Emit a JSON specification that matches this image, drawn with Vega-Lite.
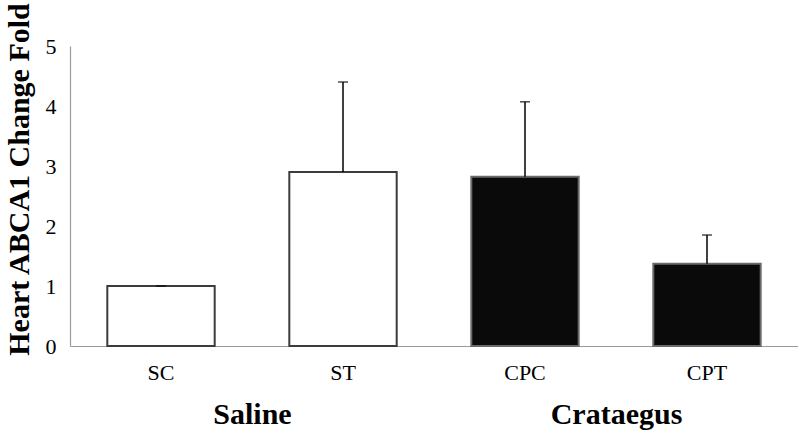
{
  "$schema": "https://vega.github.io/schema/vega-lite/v6.json",
  "width": 728,
  "height": 300,
  "autosize": "none",
  "padding": {"left": 70, "top": 46, "right": 0, "bottom": 86},
  "background": "white",
  "config": {"view": {"stroke": null}, "font": "Liberation Serif"},
  "data": {
    "values": [
      {"group": "SC", "treatment": "Saline", "value": 1.0, "upper": 1.0},
      {"group": "ST", "treatment": "Saline", "value": 2.9, "upper": 4.4},
      {"group": "CPC", "treatment": "Crataegus", "value": 2.82, "upper": 4.07},
      {"group": "CPT", "treatment": "Crataegus", "value": 1.37, "upper": 1.85}
    ]
  },
  "layer": [
    {
      "layer": [
        {
          "mark": {"type": "bar", "strokeWidth": 2},
          "encoding": {
            "x": {
              "field": "group",
              "type": "nominal",
              "sort": ["SC", "ST", "CPC", "CPT"],
              "scale": {"paddingInner": 0.41, "paddingOuter": 0.205},
              "axis": {
                "title": null,
                "labelAngle": 0,
                "labelFont": "Liberation Serif",
                "labelFontSize": 22,
                "labelColor": "black",
                "labelPadding": 16,
                "ticks": false,
                "domainColor": "#9a9a9a",
                "domainWidth": 1.2
              }
            },
            "y": {
              "field": "value",
              "type": "quantitative",
              "scale": {"domain": [0, 5], "nice": false},
              "axis": {
                "values": [0, 1, 2, 3, 4, 5],
                "format": "d",
                "title": "Heart ABCA1 Change Fold",
                "titleFont": "Liberation Serif",
                "titleFontWeight": "bold",
                "titleFontSize": 30,
                "titleColor": "black",
                "titleAngle": -90,
                "titleAlign": "center",
                "titleBaseline": "alphabetic",
                "titleX": -42,
                "titleY": 133,
                "labelFont": "Liberation Serif",
                "labelFontSize": 22,
                "labelColor": "black",
                "labelPadding": 14,
                "ticks": false,
                "grid": false,
                "domainColor": "#9a9a9a",
                "domainWidth": 1.2
              }
            },
            "fill": {
              "field": "treatment",
              "type": "nominal",
              "scale": {"domain": ["Saline", "Crataegus"], "range": ["#ffffff", "#0a0a0a"]},
              "legend": null
            },
            "stroke": {
              "field": "treatment",
              "type": "nominal",
              "scale": {"domain": ["Saline", "Crataegus"], "range": ["#3c3c3c", "#6a6a6a"]},
              "legend": null
            }
          }
        },
        {
          "mark": {"type": "rule", "color": "black", "strokeWidth": 1.5},
          "encoding": {
            "x": {"field": "group", "type": "nominal", "sort": ["SC", "ST", "CPC", "CPT"]},
            "y": {"field": "value", "type": "quantitative"},
            "y2": {"field": "upper"}
          }
        },
        {
          "mark": {"type": "tick", "color": "black", "size": 10, "thickness": 1.5},
          "encoding": {
            "x": {"field": "group", "type": "nominal", "sort": ["SC", "ST", "CPC", "CPT"]},
            "y": {"field": "upper", "type": "quantitative"}
          }
        }
      ]
    },
    {
      "mark": {"type": "point", "opacity": 0},
      "encoding": {
        "x": {
          "field": "treatment",
          "type": "nominal",
          "sort": ["Saline", "Crataegus"],
          "scale": {"paddingInner": 0, "paddingOuter": 0},
          "axis": {
            "orient": "bottom",
            "title": null,
            "labelAngle": 0,
            "labelFont": "Liberation Serif",
            "labelFontWeight": "bold",
            "labelFontSize": 30,
            "labelColor": "black",
            "labelPadding": 53,
            "ticks": false,
            "domain": false
          }
        }
      }
    }
  ],
  "resolve": {"scale": {"x": "independent"}, "axis": {"x": "independent"}}
}
